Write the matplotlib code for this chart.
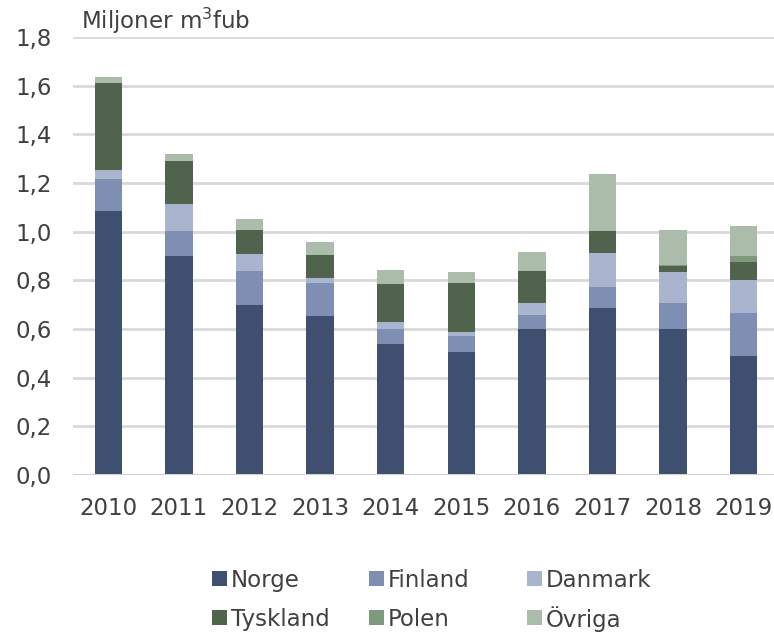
import matplotlib
matplotlib.use("Agg")
import matplotlib.pyplot as plt
from matplotlib.patches import Rectangle
import numpy as np

years = ["2010", "2011", "2012", "2013", "2014", "2015", "2016", "2017", "2018", "2019"]
series_names = ["Norge", "Finland", "Danmark", "Tyskland", "Polen", "Övriga"]
norge    = [1.085, 0.900, 0.698, 0.654, 0.538, 0.505, 0.600, 0.686, 0.598, 0.491]
finland  = [0.130, 0.104, 0.140, 0.135, 0.060, 0.065, 0.058, 0.086, 0.108, 0.176]
danmark  = [0.040, 0.108, 0.070, 0.022, 0.030, 0.019, 0.048, 0.141, 0.130, 0.134]
tyskland = [0.356, 0.180, 0.099, 0.093, 0.156, 0.200, 0.132, 0.088, 0.024, 0.076]
polen    = [0.000, 0.000, 0.000, 0.000, 0.000, 0.000, 0.000, 0.000, 0.004, 0.022]
ovriga   = [0.025, 0.029, 0.047, 0.054, 0.057, 0.045, 0.077, 0.238, 0.144, 0.123]
y_ticks = [0.0, 0.2, 0.4, 0.6, 0.8, 1.0, 1.2, 1.4, 1.6, 1.8]

colors = ["#3f4f70", "#7f8fb3", "#a9b4cf", "#50634c", "#7e9a7d", "#abbcab"]
values = [norge, finland, danmark, tyskland, polen, ovriga]

W, H = 774, 634
fig = plt.figure(figsize=(W / 100, H / 100), dpi=100)
ax = fig.add_axes([73 / W, (H - 475) / H, (W - 73) / W, (475 - 37) / H])

x = np.arange(len(years))
bottom = np.zeros(len(years))
for name, vals, c in zip(series_names, values, colors):
    v = np.array(vals)
    ax.bar(x, v, bottom=bottom, width=0.39, color=c, label=name, zorder=3,
           edgecolor="none")
    bottom += v

ax.set_xlim(-0.5, (W - 73) / 70.6 - 0.5)
ax.set_ylim(0, 1.8)
ax.set_yticks(y_ticks)
ax.set_yticklabels([f"{t:.1f}".replace(".", ",") for t in y_ticks])
ax.set_xticks(x)
ax.set_xticklabels(years)
txt = "#404040"
ax.tick_params(axis="both", length=0, labelsize=16.5, labelcolor=txt)
ax.tick_params(axis="x", pad=16)
ax.tick_params(axis="y", pad=15)
for s in ax.spines.values():
    s.set_visible(False)
ax.yaxis.grid(True, color="#d9d9d9", linewidth=2, zorder=0)
ax.axhline(0, color="#d0d0d0", linewidth=2.2, zorder=4)
ax.set_axisbelow(True)

fig.text(81 / W, 1 - 21 / H, "Miljoner m$^3$fub", fontsize=16.5, color=txt,
         ha="left", va="center")

# Legend: three columns, two rows (manual placement)
col_x = [212, 369, 527]
row_y = [578, 617]
sq = 15
for k, (name, c) in enumerate(zip(series_names, colors)):
    cx = col_x[k % 3]
    cy = row_y[k // 3]
    fig.add_artist(Rectangle((cx / W, 1 - (cy + sq / 2) / H), sq / W, sq / H,
                             transform=fig.transFigure, facecolor=c,
                             edgecolor="none"))
    fig.text((cx + sq + 4) / W, 1 - cy / H, name, fontsize=16.5, color=txt,
             ha="left", va="center_baseline")

fig.savefig("out.png", dpi=100)
